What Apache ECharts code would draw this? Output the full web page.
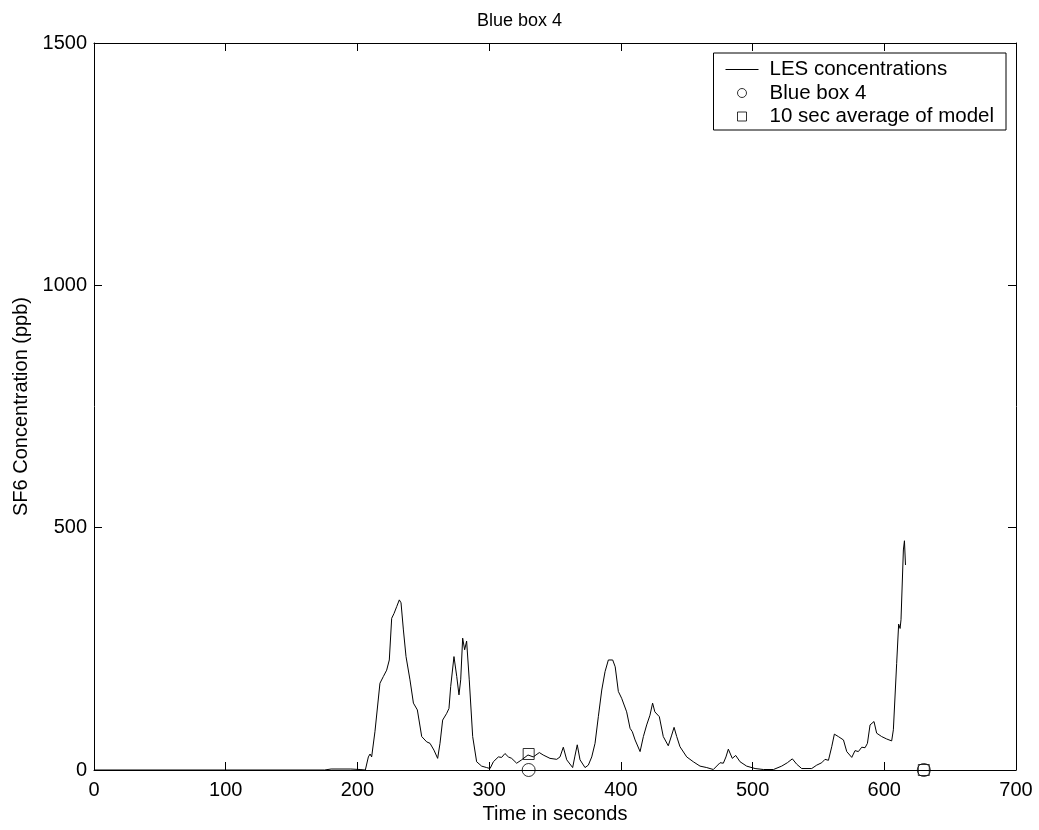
<!DOCTYPE html>
<html>
<head>
<meta charset="utf-8">
<script src="https://cdn.jsdelivr.net/npm/echarts@6/dist/echarts.min.js"></script>
<style>html,body{margin:0;padding:0;background:#fff}#c{width:1039px;height:830px}</style>
</head>
<body>
<div id="c"></div>
<script>
// LES concentration time series (seconds, ppb)
const lesTime = [0,175,180,195,202,206,208.3,209.6,210.8,213.3,214.6,217.1,219.7,222.2,224.2,226,227.8,229.8,231.8,233.1,234.9,236.9,239.9,242.5,245.5,248.8,252.6,255.1,258.1,260.9,262.7,264.7,266,267.8,269.5,270.8,273.3,275.4,277.1,278.4,279.9,281.4,282.9,284.9,287.5,290.5,294.3,298.1,300.7,303.2,307,309.5,312,314.6,317.1,320.9,322.2,324.7,326,329.5,333.5,338.1,341,346.2,351.3,353.8,356.3,358.9,363.4,365,366.9,369,372.8,375.3,377.9,380.4,382.9,385.5,388,390.5,393.8,395.7,398.1,400.6,404.4,407,408.7,410.8,414.6,417.1,419.6,422.1,424.1,425.8,429.2,432.2,436,438.6,440.4,442.4,444.9,450,455,460.1,465.2,470.2,475.3,477.8,479.8,481.6,484.6,487.2,490.5,495.5,501.9,508.2,515.9,522.1,526.4,530.2,533.5,537.3,544.9,548.7,552.5,555,557.6,560.1,562.1,565.1,569,571.5,575.3,577.8,580.3,582.9,585.4,587.2,589.2,592.2,594.2,598,601.8,605.6,606.9,609.4,610.9,612,612.7,614.5,615.3,616.1];
const lesConc = [0,0,2,2,1,0,27,33,27,79,77,179,193,206,227,313,323,337,351,345,289,234,186,138,124,69,58,55,41,24,55,103,100,117,127,172,234,193,155,186,272,248,266,186,69,17,8,5,3,17,27,26,34,27,24,14,10,21,24,31,27,36,31,24,22,27,47,21,5,27,52,21,5,10,27,55,110,165,203,227,227,213,162,148,120,86,79,62,38,69,93,113,138,120,110,69,50,72,88,69,48,27,17,8,5,1,15,14,27,43,24,30,17,8,3,1,1,8,15,23,12,3,3,10,15,22,20,48,74,69,62,38,26,40,38,47,46,55,93,100,76,69,64,60,83,220,301,292,310,454,473,423];
// Blue box 4 observations
const boxTime = [330, 630];
const boxConc = [0, 0];
// 10 sec average of model
const avgTime = [330, 630];
const avgConc = [33, 0];
// axis ticks
const xTicks = [0,100,200,300,400,500,600,700];
const yTicks = [0,500,1000,1500];

const FONT = 'Liberation Sans, Arial, Helvetica, sans-serif';
const chart = echarts.init(document.getElementById('c'), null, {renderer: 'canvas'});
const zip = (a, b) => a.map((v, i) => [v, b[i]]);
const axisCommon = {
  type: 'value',
  axisLine: {show: true, onZero: false, lineStyle: {color: '#000', width: 1}},
  axisTick: {show: true, inside: true, length: 8, lineStyle: {color: '#000', width: 1}},
  splitLine: {show: false}
};
chart.setOption({
  animation: false,
  backgroundColor: '#fff',
  title: {
    text: 'Blue box 4', left: 'center', top: 7,
    textStyle: {fontFamily: FONT, fontSize: 18, fontWeight: 'normal', color: '#000'}
  },
  grid: {left: 94, right: 23, top: 43, bottom: 60, containLabel: false},
  legend: {
    orient: 'vertical', right: 33, top: 53,
    padding: [6, 12, 3, 12], itemGap: 2.5,
    itemWidth: 33, itemHeight: 9,
    borderColor: '#000', borderWidth: 1, backgroundColor: '#fff',
    textStyle: {fontFamily: FONT, fontSize: 20.5, color: '#000', lineHeight: 21, padding: [0, 0, 0, 6]},
    data: [
      {name: 'LES concentrations', icon: 'path://M0,0H33V1H0Z', itemStyle: {color: '#000', borderWidth: 0}},
      {name: 'Blue box 4', icon: 'circle', itemStyle: {color: '#fff', borderColor: '#000', borderWidth: 1}},
      {name: '10 sec average of model', icon: 'path://M0,0H10V10H0Z', itemStyle: {color: '#fff', borderColor: '#000', borderWidth: 1}}
    ]
  },
  xAxis: [
    Object.assign({}, axisCommon, {
      min: 0, max: 700, interval: 100, position: 'bottom',
      axisLabel: {fontFamily: FONT, fontSize: 20, color: '#000', margin: 10,
        formatter: v => String(v)},
      name: 'Time in seconds', nameLocation: 'middle', nameGap: 32,
      nameTextStyle: {fontFamily: FONT, fontSize: 20, color: '#000'}
    }),
    Object.assign({}, axisCommon, {
      min: 0, max: 700, interval: 100, position: 'top', axisLabel: {show: false}
    })
  ],
  yAxis: [
    Object.assign({}, axisCommon, {
      min: 0, max: 1500, interval: 500, position: 'left',
      axisLabel: {fontFamily: FONT, fontSize: 20, color: '#000', margin: 7,
        formatter: v => String(v)},
      name: 'SF6 Concentration (ppb)', nameLocation: 'middle', nameGap: 62,
      nameTextStyle: {fontFamily: FONT, fontSize: 20, color: '#000'}
    }),
    Object.assign({}, axisCommon, {
      min: 0, max: 1500, interval: 500, position: 'right', axisLabel: {show: false}
    })
  ],
  series: [
    {
      name: 'LES concentrations', type: 'line', xAxisIndex: 0, yAxisIndex: 0,
      data: zip(lesTime, lesConc), symbol: 'none', showSymbol: false, smooth: false,
      lineStyle: {color: '#000', width: 1}, itemStyle: {color: '#000'}, z: 3
    },
    {
      name: 'Blue box 4', type: 'scatter', xAxisIndex: 0, yAxisIndex: 0,
      data: zip(boxTime, boxConc), symbol: 'circle', symbolSize: 13,
      itemStyle: {color: 'rgba(0,0,0,0)', borderColor: '#000', borderWidth: 1}, z: 4
    },
    {
      name: '10 sec average of model', type: 'scatter', xAxisIndex: 0, yAxisIndex: 0,
      data: zip(avgTime, avgConc), symbol: 'rect', symbolSize: 11,
      itemStyle: {color: 'rgba(0,0,0,0)', borderColor: '#000', borderWidth: 1}, z: 4
    }
  ]
});
</script>
</body>
</html>
